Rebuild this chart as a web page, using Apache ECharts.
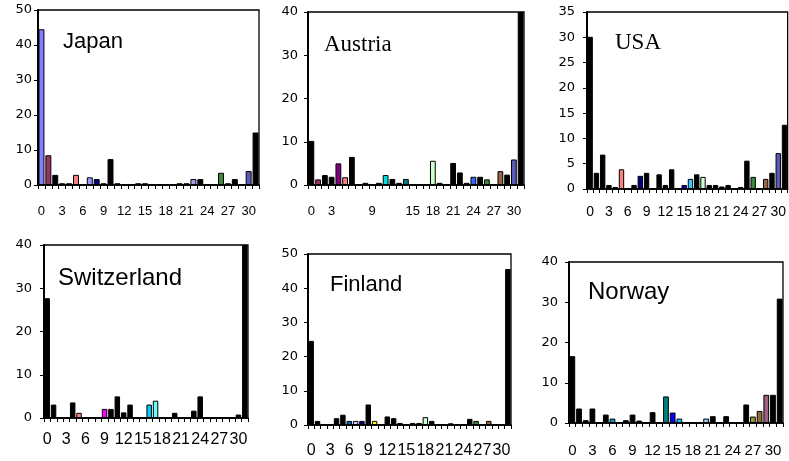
<!DOCTYPE html>
<html><head><meta charset="utf-8">
<script src="https://cdn.jsdelivr.net/npm/echarts@6/dist/echarts.min.js"></script>
<style>html,body{margin:0;padding:0;background:#fff}#c{width:789px;height:461px}</style>
</head><body><div id="c"></div>
<script>
const categories = ['0','1','2','3','4','5','6','7','8','9','10','11','12','13','14','15','16','17','18','19','20','21','22','23','24','25','26','27','28','29','30','31'];
const countries = ['Japan','Austria','USA','Switzerland','Finland','Norway'];
const japan       = [44.5,8.5,2.9,0.5,0.5,2.9,0,2.2,1.7,0.5,7.4,0.5,0,0,0.5,0.5,0,0,0,0,0.5,0.5,1.7,1.7,0,0,3.5,0.5,1.7,0,4,15];
const austria     = [10.2,1.3,2.3,1.9,5,1.8,6.5,0,0.5,0,0.5,2.3,1.4,0.5,1.4,0,0,0,5.6,0.5,0,5.1,2.9,0.5,1.9,1.9,1.3,0,3.2,2.4,5.9,40];
const usa         = [30.1,3.2,6.8,0.8,0.4,3.9,0,0.8,2.6,3.2,0,2.9,0.8,3.9,0,0.8,2,2.9,2.4,0.8,0.8,0.5,0.8,0,0.4,5.6,2.4,0,2,3.2,7.1,12.7];
const switzerland = [27.7,3.1,0,0,3.6,1.2,0,0,0,2.1,2.1,5,1.3,3.1,0,0,3.1,4,0,0,1.2,0,0,1.7,5,0,0,0,0,0,0.8,40];
const finland     = [24.6,1.2,0,0,2,3,1.2,1.2,1.2,6,1.2,0,2.5,2,0.6,0,0.6,0.6,2.3,1.2,0,0,0.5,0,0,1.8,1.2,0,1.2,0,0,45.6];
const norway      = [16.6,3.6,0.7,3.6,0,2.1,1.1,0,0.7,2.1,0.6,0,2.7,0,6.6,2.6,1.1,0,0,0,1.1,1.7,0,1.7,0,0,4.6,1.6,3,7,7,30.9];
const yMax = [50,40,35,40,50,40];
const yStep = [10,10,5,10,10,10];

// styles (bar fill colours by category index; default black)
const barColors = [
  {0:'#7f7fff',1:'#993366',5:'#ff8080',7:'#9999ff',8:'#000080',22:'#a99cf0',26:'#3c8c3c',30:'#5a5ab8'},
  {1:'#993366',4:'#800080',5:'#ff8080',11:'#00e0e0',14:'#008080',18:'#ccffcc',24:'#3366ff',26:'#3c8c3c',28:'#996644',30:'#5a5ab8'},
  {5:'#ff8080',8:'#000080',15:'#0000cc',16:'#33ccff',18:'#ccffcc',26:'#3c8c3c',28:'#996644',30:'#5a5ab8'},
  {5:'#ff8080',9:'#ff00ff',16:'#00ccff',17:'#66ffff'},
  {6:'#0066cc',7:'#ccccff',8:'#000080',10:'#ffff00',18:'#ccffcc',26:'#3c8c3c',28:'#996644'},
  {6:'#0099cc',14:'#008080',15:'#0000ff',16:'#00ccff',20:'#99ccff',27:'#999933',28:'#996633',29:'#a0607f'}
];
const grids = [
  {left:38, top:10, width:221, height:175},
  {left:308, top:12, width:216, height:173},
  {left:587, top:12, width:203, height:177},
  {left:44, top:245, width:204, height:173},
  {left:308, top:254, width:203, height:171},
  {left:569, top:262, width:214, height:161}
];
const xLabelSize = [13,13,14,16,16,15];
const xLabelMargin = [20,20,16,14,18,20];
const yLabelMargin = [6,10,12,12,10,11];
const titles = [
  {x:63, y:42, font:'22px "Liberation Sans", Arial'},
  {x:324, y:45, font:'23px "Liberation Serif", "Times New Roman"'},
  {x:615, y:43, font:'23px "Liberation Serif", "Times New Roman"'},
  {x:58, y:278, font:'24px "Liberation Sans", Arial'},
  {x:330, y:285, font:'22px "Liberation Sans", Arial'},
  {x:588, y:292, font:'24px "Liberation Sans", Arial'}
];
const values = [japan, austria, usa, switzerland, finland, norway];

const chart = echarts.init(document.getElementById('c'), null, {renderer:'canvas'});
const option = {
  animation:false,
  backgroundColor:'#fff',
  grid: grids.map(g => Object.assign({show:true, borderColor:'#000', borderWidth:1.3, backgroundColor:'transparent'}, g)),
  xAxis: grids.map((g,i) => ({
    type:'category', gridIndex:i, data:categories,
    axisLine:{lineStyle:{color:'#000', width:1.5}},
    axisTick:{show:true, interval:0, length:4, lineStyle:{color:'#000', width:1}},
    axisLabel:{interval:2, color:'#000', fontSize:xLabelSize[i], fontFamily:'"Liberation Sans", Arial', margin:xLabelMargin[i],
      formatter: v => (i===1 && (v==='6'||v==='12')) ? '' : v},
    splitLine:{show:false}
  })),
  yAxis: grids.map((g,i) => ({
    type:'value', gridIndex:i, min:0, max:yMax[i], interval:yStep[i],
    axisLine:{show:true, lineStyle:{color:'#000', width:2}},
    axisTick:{show:true, length:4, lineStyle:{color:'#000'}},
    axisLabel:{color:'#000', fontSize:13, fontFamily:'"DejaVu Sans"', margin:yLabelMargin[i]},
    splitLine:{show:false}
  })),
  series: values.map((vals,i) => ({
    type:'bar', xAxisIndex:i, yAxisIndex:i, barCategoryGap:'14%',
    data: vals.map((v,j) => ({value:v, itemStyle:{color: barColors[i][j] || '#000', borderColor:'#000', borderWidth:1}}))
  })),
  graphic: titles.map((t,i) => ({
    type:'text', x:t.x, y:t.y, style:{text:countries[i], font:t.font, fill:'#000', textVerticalAlign:'middle'}
  }))
};
chart.setOption(option);
</script></body></html>
